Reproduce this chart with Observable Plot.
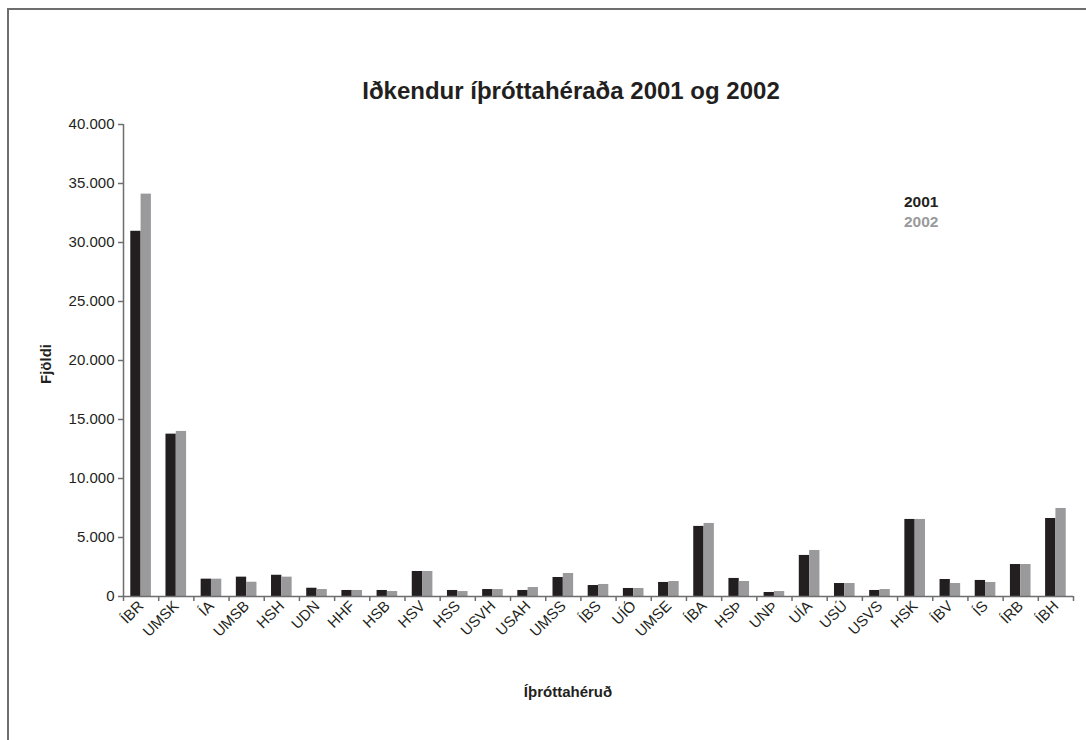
<!DOCTYPE html>
<html>
<head>
<meta charset="utf-8">
<script src="https://cdn.jsdelivr.net/npm/d3@7"></script>
<script src="https://cdn.jsdelivr.net/npm/@observablehq/plot@0.6"></script>
<style>
  html, body { margin: 0; padding: 0; background: #fff; }
  #wrap { position: relative; width: 1086px; height: 740px; overflow: hidden; font-family: "Liberation Sans", Arial, sans-serif; }
  #frame { position: absolute; left: 7px; top: 8px; right: -10px; bottom: -10px; border-left: 2px solid #6e6e6e; border-top: 2px solid #6e6e6e; }
  .t { position: absolute; line-height: 1; white-space: nowrap; font-weight: bold; }
  #title { left: 0; width: 1142px; text-align: center; top: 79px; font-size: 24px; color: #231f20; }
  #xlab { left: 0; width: 1136px; text-align: center; top: 684px; font-size: 15px; color: #231f20; }
  #ylab { left: 45px; top: 364px; font-size: 15px; color: #231f20; transform: translate(-50%, -50%) rotate(-90deg); }
  #leg1 { left: 904px; top: 194px; font-size: 15.5px; color: #231f20; }
  #leg2 { left: 904px; top: 214px; font-size: 15.5px; color: #9a9a9c; }
  #chart { position: absolute; left: 0; top: 0; }
</style>
</head>
<body>
<div id="wrap">
  <div id="frame"></div>
  <div id="chart"></div>
  <div class="t" id="title">Iðkendur íþróttahéraða 2001 og 2002</div>
  <div class="t" id="ylab">Fjöldi</div>
  <div class="t" id="xlab">Íþróttahéruð</div>
  <div class="t" id="leg1">2001</div>
  <div class="t" id="leg2">2002</div>
</div>
<script>
const categories = ["ÍBR","UMSK","ÍA","UMSB","HSH","UDN","HHF","HSB","HSV","HSS","USVH","USAH","UMSS","ÍBS","UÍÓ","UMSE","ÍBA","HSÞ","UNÞ","UÍA","USÚ","USVS","HSK","ÍBV","ÍS","ÍRB","ÍBH"];
const values2001 = [30950,13760,1470,1640,1800,700,510,510,2120,510,590,510,1610,930,680,1190,5940,1530,340,3480,1100,510,6530,1440,1360,2710,6610];
const values2002 = [34100,13990,1470,1210,1640,590,510,420,2120,420,590,760,1950,1020,680,1270,6190,1270,420,3900,1100,590,6530,1100,1190,2710,7460];
const years = ["2001", "2002"];
const yTicks = [0,5000,10000,15000,20000,25000,30000,35000,40000];

const colors = {"2001": "#231f20", "2002": "#9a9a9c"};
const barFrac = 0.293; // bar width as a fraction of a category band

const data = [];
categories.forEach((c, i) => {
  data.push({i, cat: c, year: "2001", v: values2001[i]});
  data.push({i, cat: c, year: "2002", v: values2002[i]});
});

const loc = d3.formatLocale({decimal: ",", thousands: ".", grouping: [3], currency: ["", ""]});
const fmt = loc.format(",");

const n = categories.length;
const chart = Plot.plot({
  width: 1086,
  height: 740,
  marginLeft: 123,
  marginRight: 13,
  marginTop: 124,
  marginBottom: 144,
  style: {fontFamily: "'Liberation Sans', Arial, sans-serif", fontSize: "15px", color: "#231f20", background: "transparent"},
  x: {type: "linear", domain: [0, n]},
  y: {domain: [0, 40000]},
  marks: [
    Plot.rectY(data, {
      x1: d => d.i + 0.5 + (d.year === "2001" ? -barFrac : 0),
      x2: d => d.i + 0.5 + (d.year === "2001" ? 0 : barFrac),
      y: "v",
      fill: d => colors[d.year],
      inset: 0
    }),
    Plot.ruleX([0], {stroke: "#6e6e6e", strokeWidth: 1.5}),
    Plot.ruleY([0], {stroke: "#6e6e6e", strokeWidth: 1.5}),
    Plot.axisY({ticks: yTicks, tickSize: 5, tickPadding: 4, tickFormat: fmt, label: null, stroke: "#6e6e6e", strokeWidth: 1.5, fontSize: 15, fill: "#231f20"}),
    Plot.axisX({ticks: d3.range(0, n + 1), tickSize: 5, tickFormat: () => "", label: null, stroke: "#6e6e6e", strokeWidth: 1.5}),
    Plot.axisX({ticks: d3.range(n).map(i => i + 0.5), tickSize: 0, tickPadding: 7, tickRotate: -45, tickFormat: t => categories[Math.floor(t)], label: null, fontSize: 15, fill: "#231f20"})
  ]
});
document.getElementById("chart").appendChild(chart);
</script>
</body>
</html>
